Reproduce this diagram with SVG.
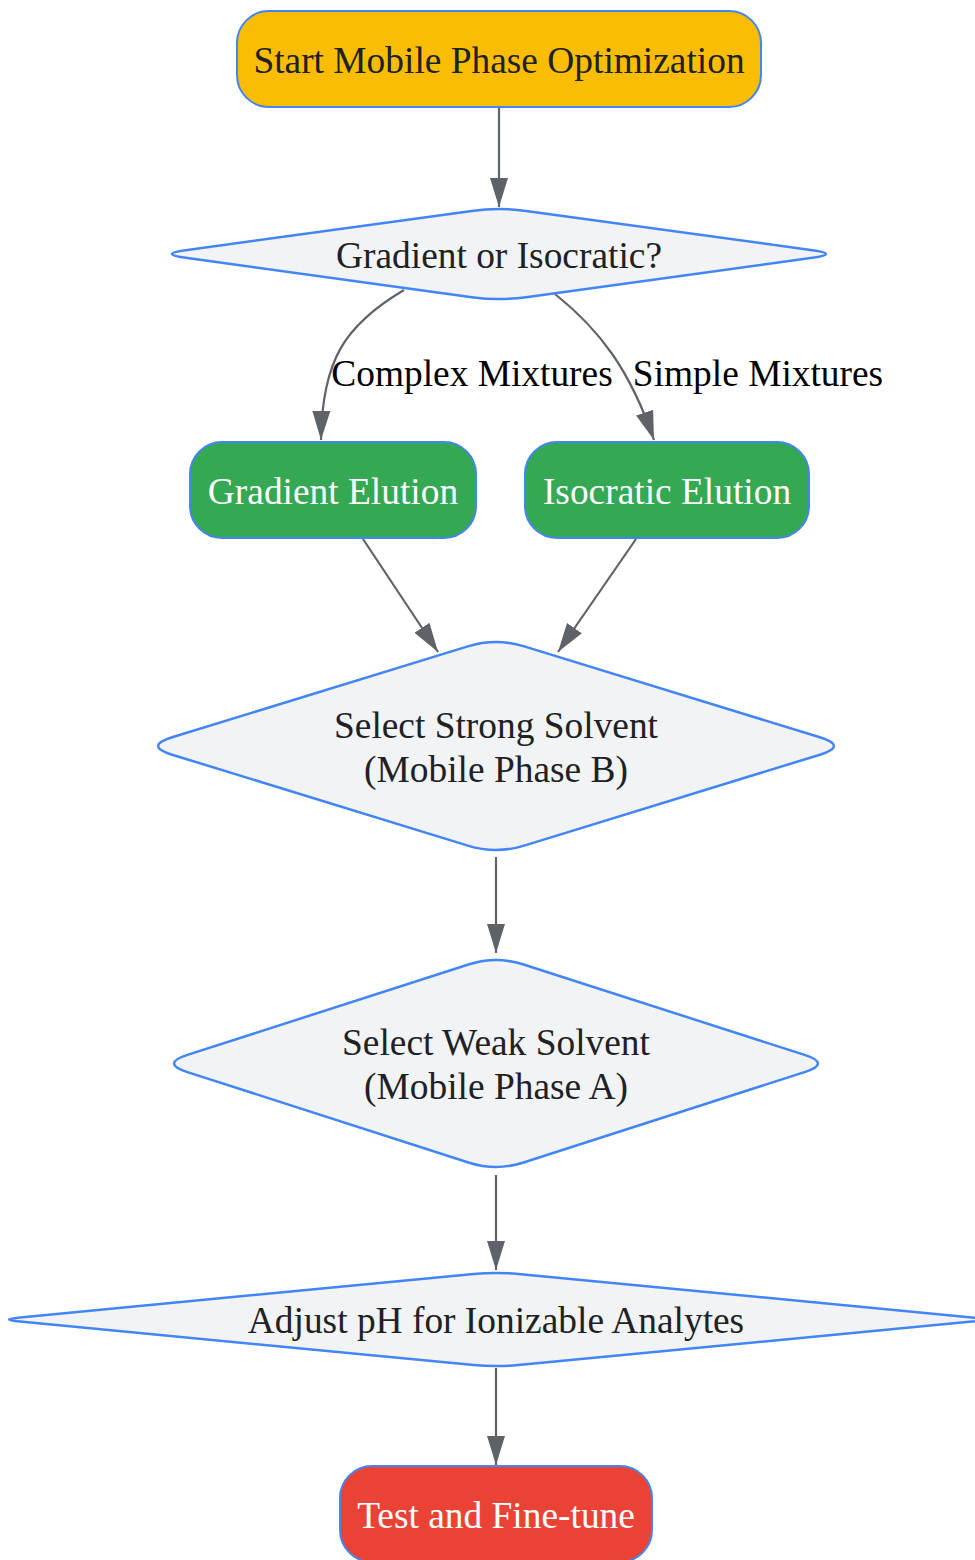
<svg xmlns="http://www.w3.org/2000/svg" width="975" height="1560" viewBox="0 0 975 1560">
<style>
.t{font-family:"Liberation Serif","Times New Roman",serif;font-size:37.4px;text-anchor:middle;fill:#202124}
.w{fill:#ffffff}
.lbl{font-family:"Liberation Serif","Times New Roman",serif;font-size:37.4px;text-anchor:middle;fill:#000000}
.box{stroke:#4285F4;stroke-width:2}
.dia{fill:#F1F3F4;stroke:#4285F4;stroke-width:2.5}
.e{fill:none;stroke:#5F6368;stroke-width:2.2}
</style>
<defs>
<marker id="ah" markerUnits="userSpaceOnUse" markerWidth="30" markerHeight="20" refX="29" refY="10" orient="auto">
<path d="M0,1 L29,10 L0,19 Z" fill="#5F6368"/>
</marker>
</defs>
<rect width="975" height="1560" fill="#ffffff"/>
<g id="edges">
<path class="e" d="M499,108 L499,207" marker-end="url(#ah)"/>
<path class="e" d="M404,290 C345,325 322,360 321,440" marker-end="url(#ah)"/>
<path class="e" d="M555,294 C600,330 630,370 654,440" marker-end="url(#ah)"/>
<path class="e" d="M363,539 L438,652" marker-end="url(#ah)"/>
<path class="e" d="M636,539 L558,652" marker-end="url(#ah)"/>
<path class="e" d="M496,857 L496,953" marker-end="url(#ah)"/>
<path class="e" d="M496,1175 L496,1270" marker-end="url(#ah)"/>
<path class="e" d="M496,1368 L496,1465" marker-end="url(#ah)"/>
<text class="lbl" x="472" y="386">Complex Mixtures</text>
<text class="lbl" x="758" y="386">Simple Mixtures</text>
</g>
<g id="start">
<rect class="box" x="237" y="11" width="524" height="96" rx="32" fill="#FBBC04"/>
<text class="t" x="499" y="73">Start Mobile Phase Optimization</text>
</g>
<g id="decision">
<path class="dia" d="M471.8,210.9 Q499,207.1 526.2,210.9 L812.4,250.25 Q839.6,254 812.4,257.75 L526.2,297.15 Q499,300.9 471.8,297.15 L185.6,257.75 Q158.4,254 185.6,250.25 Z"/>
<text class="t" x="499" y="268">Gradient or Isocratic?</text>
</g>
<g id="gradient">
<rect class="box" x="190" y="442" width="286" height="96" rx="32" fill="#34A853"/>
<text class="t w" x="333" y="504">Gradient Elution</text>
</g>
<g id="isocratic">
<rect class="box" x="525" y="442" width="284" height="96" rx="32" fill="#34A853"/>
<text class="t w" x="667" y="504">Isocratic Elution</text>
</g>
<g id="strong">
<path class="dia" d="M467.8,646.4 Q496,637.7 524.2,646.4 L819.9,737.3 Q848.1,746 819.9,754.7 L524.2,845.6 Q496,854.3 467.8,845.6 L172.1,754.7 Q143.9,746 172.1,737.3 Z"/>
<text class="t" x="496" y="738">Select Strong Solvent</text>
<text class="t" x="496" y="782">(Mobile Phase B)</text>
</g>
<g id="weak">
<path class="dia" d="M469.2,964.3 Q496,955.7 522.8,964.3 L804.6,1054.9 Q831.4,1063.5 804.6,1072.1 L522.8,1162.7 Q496,1171.3 469.2,1162.7 L187.4,1072.1 Q160.6,1063.5 187.4,1054.9 Z"/>
<text class="t" x="496" y="1055">Select Weak Solvent</text>
<text class="t" x="496" y="1099">(Mobile Phase A)</text>
</g>
<g id="ph">
<path class="dia" d="M473.6,1274 Q496,1271.9 518.4,1274 L971.8,1317.4 Q994.2,1319.5 971.8,1321.6 L518.4,1365 Q496,1367.1 473.6,1365 L20.2,1321.6 Q-2.2,1319.5 20.2,1317.4 Z"/>
<text class="t" x="496" y="1333">Adjust pH for Ionizable Analytes</text>
</g>
<g id="test">
<rect class="box" x="340" y="1466" width="312" height="96" rx="32" fill="#EA4335"/>
<text class="t w" x="496" y="1528">Test and Fine-tune</text>
</g>
</svg>
